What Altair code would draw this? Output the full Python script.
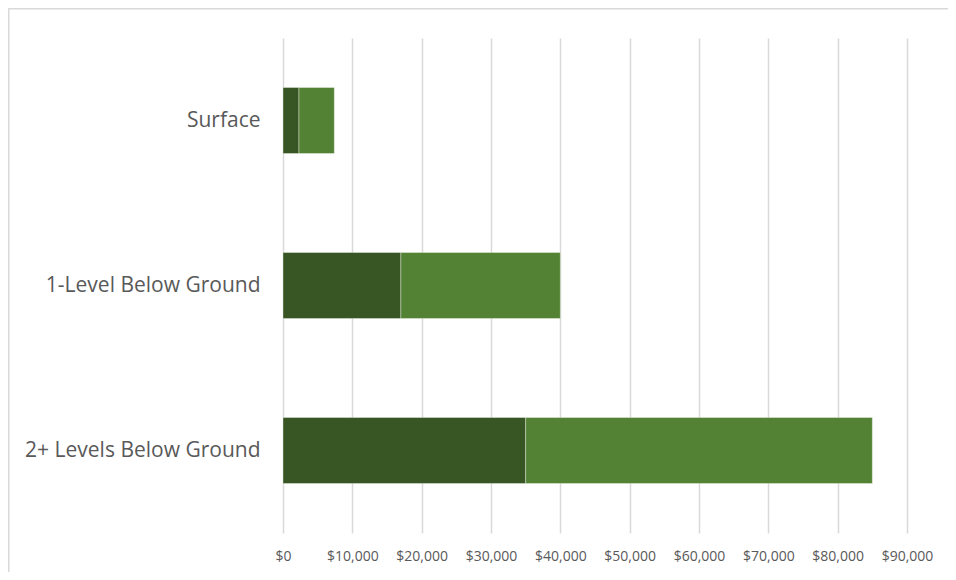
import altair as alt
import pandas as pd

categories = ["Surface", "1-Level Below Ground", "2+ Levels Below Ground"]
series_names = ["Segment 1", "Segment 2"]
segment1 = [2300, 17000, 35000]
segment2 = [5100, 23000, 50000]
x_ticks = [0, 10000, 20000, 30000, 40000, 50000, 60000, 70000, 80000, 90000]
colors = ["#375623", "#548235"]

rows = []
for i, c in enumerate(categories):
    rows.append({"category": c, "series": series_names[0], "order": 0, "value": segment1[i]})
    rows.append({"category": c, "series": series_names[1], "order": 1, "value": segment2[i]})
df = pd.DataFrame(rows)

W, H = 624, 495
PL, PT, PR, PB = 275, 30, 41, 39

bars = alt.Chart(df).mark_bar(stroke="#ffffff", strokeWidth=0.8, strokeOpacity=0.45).encode(
    y=alt.Y("category:N", sort=categories, title=None,
            scale=alt.Scale(paddingInner=0.6, paddingOuter=0.3),
            axis=alt.Axis(domain=False, ticks=False, labelFontSize=21, labelColor="#595959",
                          labelFont="Open Sans", labelPadding=23, labelLimit=300)),
    x=alt.X("value:Q", stack="zero", title=None,
            scale=alt.Scale(domain=[0, 90000], nice=False),
            axis=alt.Axis(values=x_ticks, format="$,.0f", domain=False, ticks=False,
                          grid=True, gridColor="#d9d9d9", gridWidth=1.5,
                          labelOverlap=False, labelFlush=False,
                          labelFontSize=14, labelColor="#595959", labelFont="Open Sans",
                          labelPadding=16)),
    color=alt.Color("series:N", scale=alt.Scale(domain=series_names, range=colors), legend=None),
    order=alt.Order("order:Q"),
)

one = pd.DataFrame({"k": [0]})
frame_top = alt.Chart(one).mark_rect(fill="#d9d9d9", strokeWidth=0).encode(
    x=alt.value(-PL), x2=alt.value(W + PR),
    y=alt.value(-PT), y2=alt.value(-PT + 1.5),
)
frame_left = alt.Chart(one).mark_rect(fill="#d9d9d9", strokeWidth=0).encode(
    x=alt.value(-PL), x2=alt.value(-PL + 1.5),
    y=alt.value(-PT), y2=alt.value(H + PB),
)

chart = alt.layer(frame_top, frame_left, bars).properties(
    width=W, height=H,
    background="#ffffff",
    padding={"left": PL, "top": PT, "right": PR, "bottom": PB},
    autosize=alt.AutoSizeParams(type="none"),
).configure_view(stroke=None, strokeWidth=0)

chart.save("out.html", embed_options={"renderer": "svg", "actions": False})
